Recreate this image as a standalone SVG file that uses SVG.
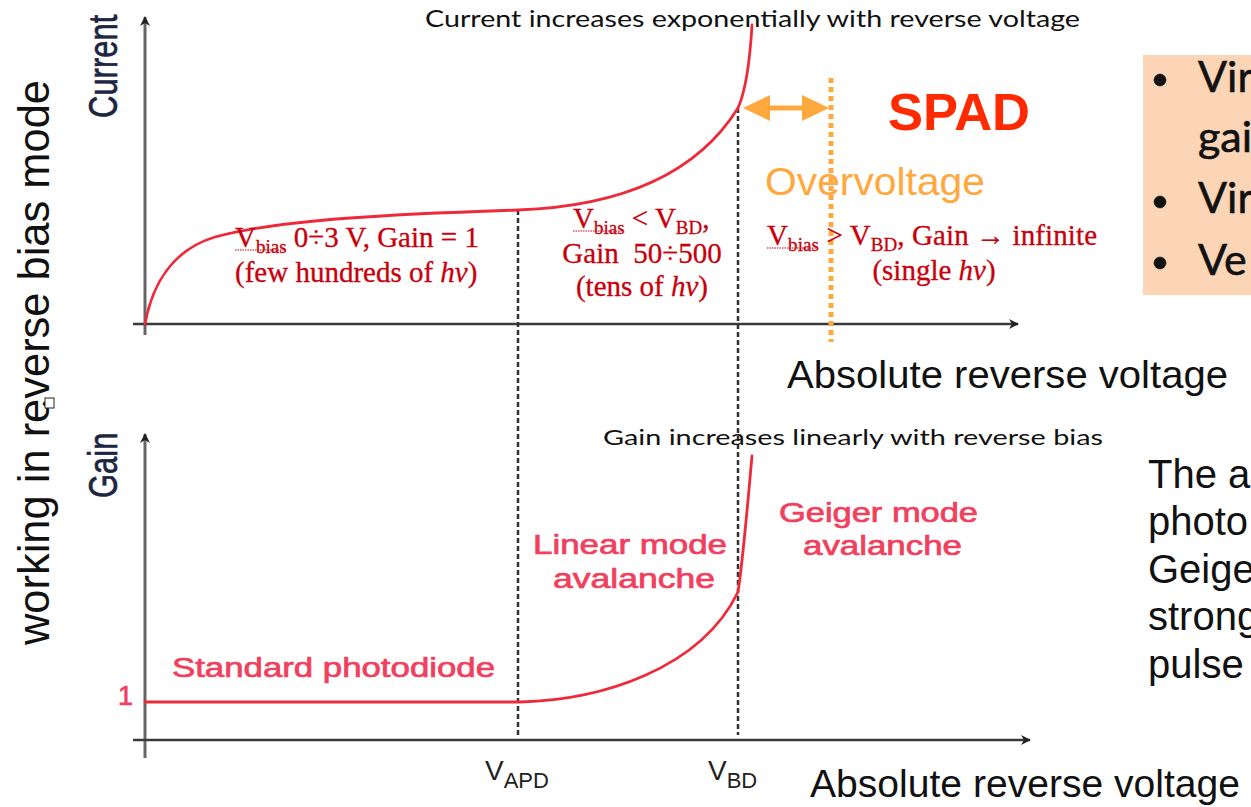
<svg xmlns="http://www.w3.org/2000/svg" width="1251" height="807" viewBox="0 0 1251 807">
<defs>
<style>
.ax{stroke:#3a3a3a;stroke-width:2.5;fill:none}
.axv{stroke:#666;stroke-width:3;fill:none}
.dash{stroke:#333;stroke-width:2.5;stroke-dasharray:5 3;fill:none}
.curve{stroke:#ee2a3a;stroke-width:2.8;fill:none;stroke-linecap:round}
.serif{font-family:"Liberation Serif","Times New Roman",serif;fill:#c8000c;font-size:29px;stroke:#c8000c;stroke-width:0.3}
.sub{font-size:19px}
.pink{font-family:"Liberation Sans",Arial,sans-serif;fill:#f0405e;font-size:27px;stroke:#f0405e;stroke-width:0.7}
.sans{font-family:"Liberation Sans",Arial,sans-serif;fill:#111}
.lato{font-family:Lato,"Open Sans",sans-serif;fill:#111}
.ul{stroke:#c8000c;stroke-width:1;stroke-dasharray:1.5 1}
</style>
<marker id="ah" viewBox="0 0 10 10" refX="9" refY="5" markerWidth="10" markerHeight="10" markerUnits="userSpaceOnUse" orient="auto"><path d="M0,0 L10,5 L0,10 L3,5 Z" fill="#222"/></marker>
</defs>
<rect width="1251" height="807" fill="#fff"/>

<g id="axes">
<line class="axv" x1="145" y1="335" x2="145" y2="17" marker-end="url(#ah)"/>
<line class="ax" x1="133" y1="324" x2="1018" y2="324" marker-end="url(#ah)"/>
<line class="axv" x1="145" y1="758" x2="145" y2="434" marker-end="url(#ah)"/>
<line class="ax" x1="133" y1="740" x2="1030" y2="740" marker-end="url(#ah)"/>
</g>

<g id="connectors">
<line class="dash" x1="518" y1="210" x2="518" y2="735"/>
<line class="dash" x1="738" y1="108" x2="738" y2="735"/>
<line x1="831" y1="78" x2="831" y2="342" stroke="#ffa83e" stroke-width="5" stroke-dasharray="5 4"/>
<g id="overvoltage-arrow" fill="#ffa83e">
<line x1="765" y1="108" x2="808" y2="108" stroke="#ffa83e" stroke-width="5"/>
<path d="M743,108 L770,95 L770,121 Z"/>
<path d="M829,108 L802,95 L802,121 Z"/>
</g>
</g>

<g id="curves">
<path class="curve" d="M145,324 C152,285 172,250 215,237 C280,219 400,214 518,210 C600,207 690,185 738,108 C746,90 750,60 752,25"/>
<path class="curve" d="M145,702 L520,702 C600,700 700,670 738,592 C743,560 748,500 752,456"/>
</g>

<g id="left-label">
<text class="sans" font-size="43.5" textLength="565" lengthAdjust="spacingAndGlyphs" transform="translate(49,645) rotate(-90)">working in reverse bias mode</text>
<rect x="45" y="398" width="9" height="10" fill="#fff" stroke="#222" stroke-width="1"/>
</g>

<g id="axis-labels">
<text class="sans" font-size="31" transform="translate(117,118) rotate(-90) scale(1,1.3)" style="fill:#1c2541;stroke:#1c2541;stroke-width:0.5">Current</text>
<text class="sans" font-size="31" transform="translate(117,498) rotate(-90) scale(1,1.3)" style="fill:#1c2541;stroke:#1c2541;stroke-width:0.5">Gain</text>
<text class="pink" x="118" y="705" font-size="22">1</text>
<text class="sans" x="787" y="388" font-size="39" textLength="441" lengthAdjust="spacingAndGlyphs">Absolute reverse voltage</text>
<text class="sans" x="810" y="797" font-size="39" textLength="430" lengthAdjust="spacingAndGlyphs">Absolute reverse voltage</text>
<text class="sans" x="485" y="780" font-size="28" style="fill:#222">V<tspan font-size="22" dy="8">APD</tspan></text>
<text class="sans" x="708" y="780" font-size="28" style="fill:#222">V<tspan font-size="22" dy="8">BD</tspan></text>
</g>

<g id="titles">
<text class="lato" x="425" y="27" font-size="23" textLength="655" lengthAdjust="spacingAndGlyphs">Current increases exponentially with reverse voltage</text>
<text class="lato" x="603" y="445" font-size="22" textLength="500" lengthAdjust="spacingAndGlyphs">Gain increases linearly with reverse bias</text>
</g>

<g id="spad">
<text x="888" y="130" font-family="Liberation Sans,Arial,sans-serif" font-weight="bold" font-size="52" fill="#ff2a00" textLength="142" lengthAdjust="spacingAndGlyphs">SPAD</text>
<text x="765" y="195" font-family="Liberation Sans,Arial,sans-serif" font-size="39" fill="#ffa83e" textLength="220" lengthAdjust="spacingAndGlyphs">Overvoltage</text>
</g>

<g id="region-standard">
<text class="serif" x="235" y="247">V<tspan class="sub" dy="6">bias</tspan><tspan dy="-6"> 0÷3 V, Gain = 1</tspan></text>
<line class="ul" x1="235" y1="250" x2="284" y2="250"/>
<text class="serif" x="235" y="282">(few hundreds of <tspan font-style="italic">hv</tspan>)</text>
</g>

<g id="region-linear">
<text class="serif" x="573" y="228">V<tspan class="sub" dy="6">bias</tspan><tspan dy="-6"> &lt; V</tspan><tspan class="sub" dy="6">BD</tspan><tspan dy="-6">,</tspan></text>
<line class="ul" x1="573" y1="231" x2="622" y2="231"/>
<text class="serif" x="642" y="263" text-anchor="middle" xml:space="preserve">Gain  50÷500</text>
<text class="serif" x="642" y="296" text-anchor="middle">(tens of <tspan font-style="italic">hv</tspan>)</text>
</g>

<g id="region-geiger">
<text class="serif" x="767" y="245" textLength="330" lengthAdjust="spacing">V<tspan class="sub" dy="6">bias</tspan><tspan dy="-6"> &gt; V</tspan><tspan class="sub" dy="6">BD</tspan><tspan dy="-6">, Gain → infinite</tspan></text>
<line class="ul" x1="767" y1="248" x2="818" y2="248"/>
<text class="serif" x="934" y="280" text-anchor="middle">(single <tspan font-style="italic">hv</tspan>)</text>
</g>

<g id="gain-labels">
<text class="pink" x="172" y="677" textLength="323" lengthAdjust="spacingAndGlyphs">Standard photodiode</text>
<text class="pink" x="533" y="554" textLength="194" lengthAdjust="spacingAndGlyphs">Linear mode</text>
<text class="pink" x="553" y="588" textLength="162" lengthAdjust="spacingAndGlyphs">avalanche</text>
<text class="pink" x="779" y="522" textLength="199" lengthAdjust="spacingAndGlyphs">Geiger mode</text>
<text class="pink" x="803" y="555" textLength="159" lengthAdjust="spacingAndGlyphs">avalanche</text>
</g>

<g id="bullet-box">
<rect x="1143" y="55" width="110" height="240" fill="#fbd5b5"/>
<g font-family="Lato,'Open Sans',sans-serif" font-size="43" fill="#111" stroke="#111" stroke-width="0.6">
<circle cx="1160" cy="80" r="6"/>
<text x="1198" y="92">Vir</text>
<text x="1198" y="152">gai</text>
<circle cx="1160" cy="202" r="6"/>
<text x="1198" y="213">Vir</text>
<circle cx="1160" cy="263" r="6"/>
<text x="1198" y="275">Ve</text>
</g>
</g>

<g id="right-text" font-family="'Liberation Sans',Arial,sans-serif" font-size="40" fill="#111">
<text x="1148" y="488">The a</text>
<text x="1148" y="535">photo</text>
<text x="1148" y="583">Geige</text>
<text x="1148" y="630">strong</text>
<text x="1148" y="678">pulse</text>
</g>
</svg>
